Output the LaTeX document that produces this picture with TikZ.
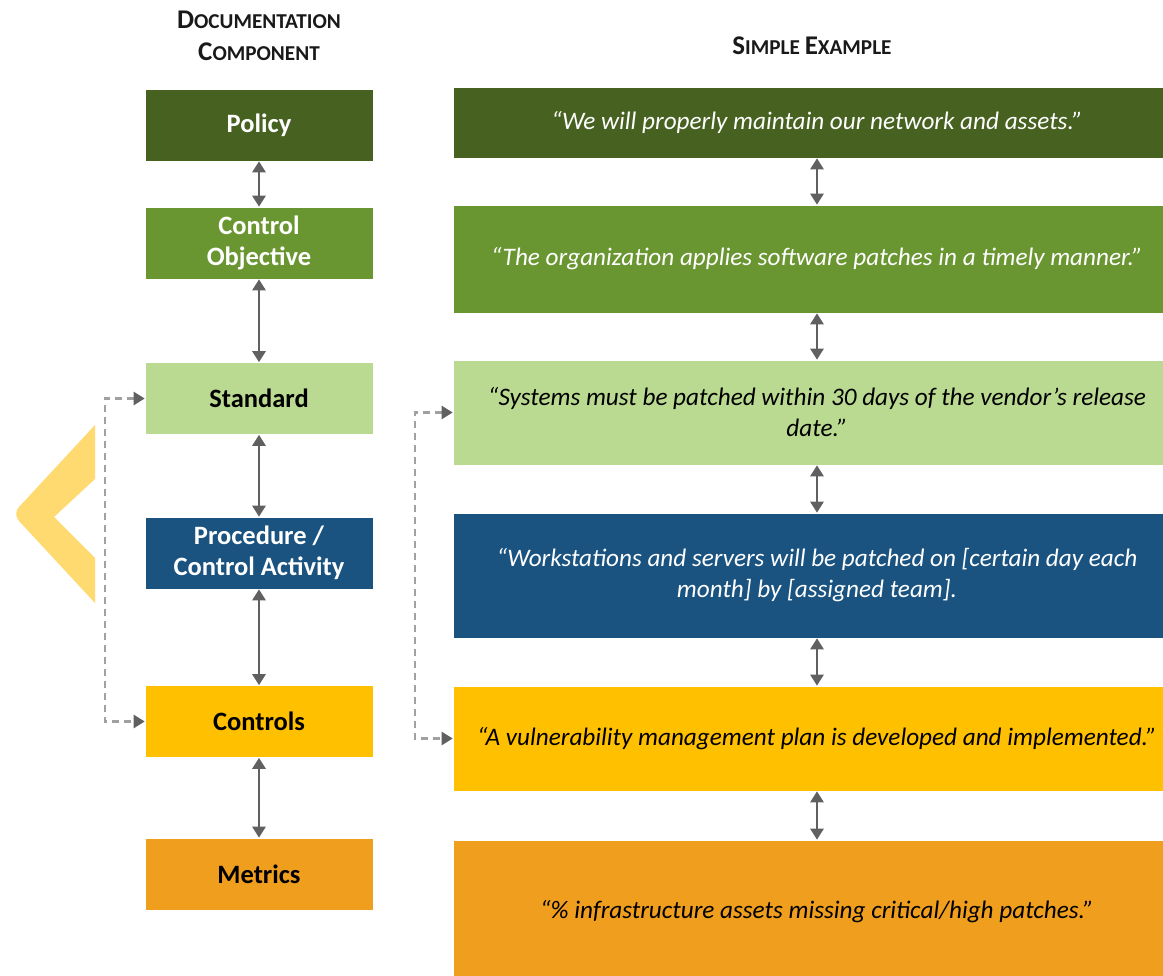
\documentclass[tikz,border=0pt]{standalone}
\usepackage{fontspec}
\setmainfont{Carlito}
\usetikzlibrary{arrows.meta}

\definecolor{policyc}{RGB}{71,97,33}
\definecolor{objc}{RGB}{106,150,50}
\definecolor{stdc}{RGB}{186,217,145}
\definecolor{procc}{RGB}{26,83,128}
\definecolor{ctrlc}{RGB}{255,192,0}
\definecolor{metc}{RGB}{240,158,30}
\definecolor{chevc}{RGB}{255,218,112}
\definecolor{arrowc}{RGB}{96,96,96}
\definecolor{dashc}{RGB}{160,160,160}
\definecolor{headc}{RGB}{25,25,25}

% large initial, smaller caps for the rest
\newcommand\capinit[2]{{\fontsize{27}{32}\selectfont #1}#2}

\begin{document}
\begin{tikzpicture}[x=1pt,y=-1pt,
  lbox/.style={rectangle, draw=white, line width=0.6pt, inner sep=0pt,
    minimum width=228pt, minimum height=72pt, align=center,
    font=\fontsize{26.5}{31}\selectfont\bfseries},
  rbox/.style={rectangle, draw=white, line width=0.6pt, inner sep=0pt,
    minimum width=728pt, align=center,
    font=\fontsize{25.2}{31}\selectfont\itshape},
  head/.style={align=center, text=headc, inner sep=0pt,
    font=\fontsize{21.2}{32}\selectfont\bfseries},
  link/.style={draw=arrowc, line width=2.7pt,
    {Triangle[length=11pt,width=13pt]}-{Triangle[length=11pt,width=13pt]}},
  dlink/.style={draw=dashc, line width=2.4pt, dash pattern=on 7pt off 5pt,
    {Triangle[length=11pt,width=13pt,color=arrowc,fill=arrowc]}-{Triangle[length=11pt,width=13pt,color=arrowc,fill=arrowc]}}
]
\useasboundingbox (0,0) rectangle (1163,976);
\clip (0,0) rectangle (1163,976);

% chevron at the left edge
\fill[chevc] (95,425) -- (19,507) to[out=227,in=133] (19,521) -- (95,603) -- (95,558)
  -- (54,517) -- (95,479) -- cycle;

% column headings
\node[head] (hleft) at (259,36) {\capinit{D}{OCUMENTATION}\\\capinit{C}{OMPONENT}};
\node[head] (hright) at (812,46) {\capinit{S}{IMPLE} \capinit{E}{XAMPLE}};

% documentation components
\node[lbox, fill=policyc, text=white] (pol) at (259,125) {Policy};
\node[lbox, fill=objc, text=white] (obj) at (259,243) {Control\\Objective};
\node[lbox, fill=stdc, text=black] (std) at (259,398.5) {Standard};
\node[lbox, fill=procc, text=white] (proc) at (259,553) {Procedure /\\Control Activity};
\node[lbox, fill=ctrlc, text=black] (ctrl) at (259,721.5) {Controls};
\node[lbox, fill=metc, text=black] (met) at (259,874) {Metrics};

% examples
\node[rbox, fill=policyc, text=white, minimum height=71pt] (polx) at (817,122.5)
  {“We will properly maintain our network and assets.”};
\node[rbox, fill=objc, text=white, minimum height=108pt] (objx) at (817,259)
  {“The organization applies software patches in a timely manner.”};
\node[rbox, fill=stdc, text=black, minimum height=105pt] (stdx) at (817,412.5)
  {“Systems must be patched within 30 days of the vendor’s release\\date.”};
\node[rbox, fill=procc, text=white, minimum height=125pt] (procx) at (817,575.5)
  {“Workstations and servers will be patched on [certain day each\\month] by [assigned team].};
\node[rbox, fill=ctrlc, text=black, minimum height=105pt] (ctrlx) at (817,738.5)
  {“A vulnerability management plan is developed and implemented.”};
\node[rbox, fill=metc, text=black, minimum height=144pt] (metx) at (817,912)
  {“\% infrastructure assets missing critical/high patches.”};

% links between levels
\draw[link] (pol) -- (obj);
\draw[link] (obj) -- (std);
\draw[link] (std) -- (proc);
\draw[link] (proc) -- (ctrl);
\draw[link] (ctrl) -- (met);

\draw[link] (polx) -- (objx);
\draw[link] (objx) -- (stdx);
\draw[link] (stdx) -- (procx);
\draw[link] (procx) -- (ctrlx);
\draw[link] (ctrlx) -- (metx);

% standards map to controls
\draw[dlink] (std.west) -- ++(-40,0) |- (ctrl.west);
\draw[dlink] (stdx.west) -- ++(-38,0) |- (ctrlx.west);
\end{tikzpicture}
\end{document}
